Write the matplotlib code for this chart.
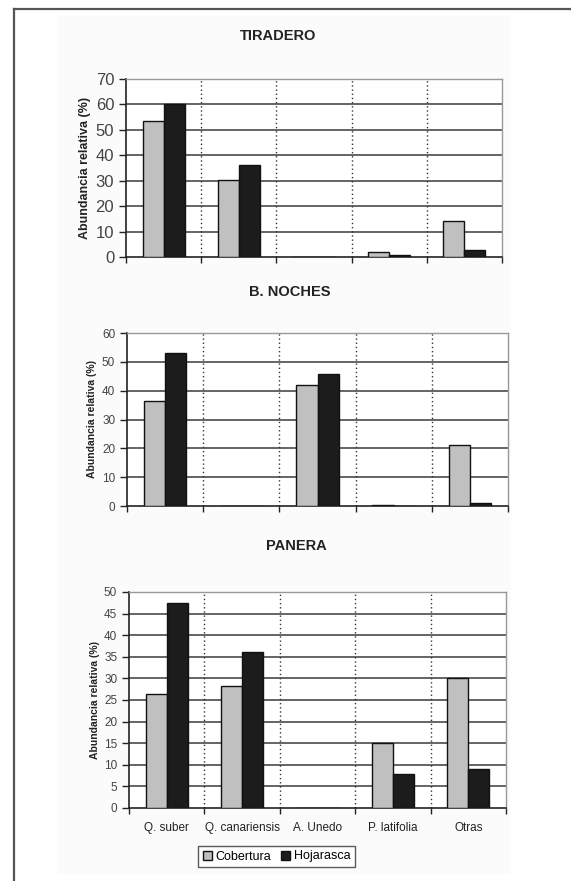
import numpy as np
import matplotlib
matplotlib.use("Agg")
import matplotlib.pyplot as plt
from matplotlib.patches import Rectangle, Patch
from matplotlib.lines import Line2D

plt.rcParams['font.family'] = ['Liberation Sans', 'DejaVu Sans']

especies = ["Q. suber", "Q. canariensis", "A. Unedo", "P. latifolia", "Otras"]
series = ["Cobertura", "Hojarasca"]

tiradero_cob = [53.3, 30.3, 0, 2.0, 14.0]
tiradero_hoj = [60.0, 36.0, 0, 0.8, 2.8]

noches_cob = [36.3, 0, 42.0, 0.5, 21.2]
noches_hoj = [53.2, 0, 45.7, 0, 1.2]

panera_cob = [26.3, 28.3, 0, 15.0, 30.2]
panera_hoj = [47.4, 36.1, 0, 7.8, 9.0]

W, H = 571, 881
fig = plt.figure(figsize=(W / 100, H / 100), dpi=100)

# page frame and faint scan background
fig.patches.append(Rectangle((58 / W, 1 - 873 / H), (509 - 58) / W, (873 - 16) / H,
                             transform=fig.transFigure, color='#fbfbfb', zorder=-5))
fig.add_artist(Line2D([14 / W, 14 / W], [0, 1 - 9 / H], transform=fig.transFigure,
                      color='#555555', lw=1.6))
fig.add_artist(Line2D([14 / W, 1], [1 - 9 / H, 1 - 9 / H], transform=fig.transFigure,
                      color='#555555', lw=1.6))


def px_box(l, r, t, b):
    return [l / W, 1 - b / H, (r - l) / W, (b - t) / H]


def panel(box, cob, hoj, ymax, step, title, title_xy, tick_fs, lab_fs, lab_x, show_x):
    ax = fig.add_axes(px_box(*box))
    x = np.arange(len(especies))
    bw = 0.28
    ax.bar(x - bw / 2, cob, bw, color='#c0c0c0', edgecolor='#111111', lw=1.0, zorder=3)
    ax.bar(x + bw / 2, hoj, bw, color='#1c1c1c', edgecolor='#111111', lw=1.0, zorder=3)
    ax.set_xlim(-0.5, len(especies) - 0.5)
    ax.set_ylim(0, ymax)
    ax.set_yticks(np.arange(0, ymax + 1, step))
    for yv in np.arange(step, ymax + 1, step):
        ax.axhline(yv, color='#3a3a3a', lw=1.1, zorder=1)
    for xv in np.arange(0.5, len(especies) - 0.5, 1):
        ax.axvline(xv, color='#333333', lw=1.0, ls=(0, (1, 2)), zorder=1)
    ax.set_xticks(np.arange(-0.5, len(especies), 1))
    ax.set_xticklabels([])
    if show_x:
        ax.set_xticks(x, minor=True)
        ax.set_xticklabels(especies, minor=True, fontsize=8.5, color='#222222')
        ax.tick_params(axis='x', which='minor', length=0, pad=10)
    ax.tick_params(axis='x', which='major', length=4, width=1, color='#222222')
    ax.tick_params(axis='y', length=5, width=1, color='#222222', labelsize=tick_fs,
                   labelcolor='#444444')
    for s in ['top', 'right']:
        ax.spines[s].set_color('#999999')
        ax.spines[s].set_linewidth(1.0)
    for s in ['left', 'bottom']:
        ax.spines[s].set_color('#222222')
        ax.spines[s].set_linewidth(1.2)
    ax.set_facecolor('white')
    fig.text(lab_x / W, 1 - (box[2] + box[3]) / 2 / H, "Abundancia relativa (%)",
             rotation=90, ha='center', va='center', fontsize=lab_fs,
             fontweight='bold', color='#222222')
    fig.text(title_xy[0] / W, 1 - title_xy[1] / H, title, ha='center', va='center',
             fontsize=10.5, fontweight='bold', color='#222222')
    return ax


panel((126, 502, 79, 257), tiradero_cob, tiradero_hoj, 70, 10, "TIRADERO",
      (278, 36), 12, 9, 85, False)
panel((127, 508, 333, 506), noches_cob, noches_hoj, 60, 10, "B. NOCHES",
      (290, 292), 8.5, 7.5, 92, False)
panel((129, 506, 592, 808), panera_cob, panera_hoj, 50, 5, "PANERA",
      (296, 546), 8.5, 7.5, 95, True)

handles = [Patch(facecolor='#c0c0c0', edgecolor='#111111'),
           Patch(facecolor='#1c1c1c', edgecolor='#111111')]
leg = fig.legend(handles, series, loc='center', bbox_to_anchor=(276.5 / W, 1 - 856.5 / H),
                 ncol=2, fontsize=9, frameon=True, fancybox=False, handlelength=0.7,
                 handleheight=0.7, handletextpad=0.3, columnspacing=0.8,
                 borderpad=0.35)
leg.get_frame().set_edgecolor('#333333')
leg.get_frame().set_linewidth(1.0)

fig.savefig("out.png", dpi=100)
